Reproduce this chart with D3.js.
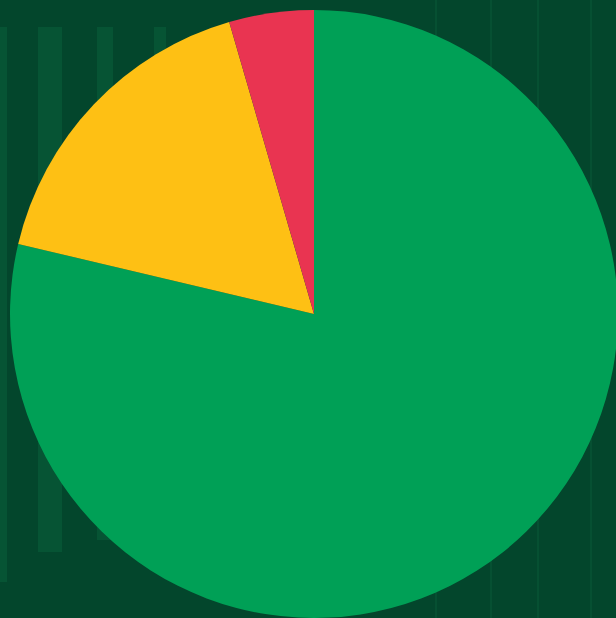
<!DOCTYPE html>
<html>
<head>
<meta charset="utf-8">
<script src="https://cdn.jsdelivr.net/npm/d3@7"></script>
<style>
html,body{margin:0;padding:0;background:#03462c;overflow:hidden;}
svg{display:block;}
</style>
</head>
<body>
<svg id="chart" width="616" height="618"></svg>
<script>
const categories = ["Green", "Yellow", "Red"];
const values = [78.7, 16.8, 4.5];
const colors = ["#00a056", "#fec014", "#e93451"];

const W = 616, H = 618;
const svg = d3.select("#chart");

// background
svg.append("rect").attr("width", W).attr("height", H).attr("fill", "#03462c");
// decorative stripes (background texture)
const stripes = [[0, 7, 27, 582], [38, 62, 27, 552], [97, 113, 27, 540], [154, 166, 27, 520]];
svg.append("g").selectAll("rect").data(stripes).join("rect")
  .attr("x", d => d[0]).attr("y", d => d[2])
  .attr("width", d => d[1] - d[0]).attr("height", d => d[3] - d[2])
  .attr("fill", "#065434");
const thin = [435, 490, 537, 590];
svg.append("g").selectAll("rect").data(thin).join("rect")
  .attr("x", d => d).attr("y", 0).attr("width", 2).attr("height", H)
  .attr("fill", "#0a5a37").attr("opacity", 0.5);

const cx = 314, cy = 314, r = 304;
const pie = d3.pie().sort(null).value(d => d.v);
const arc = d3.arc().innerRadius(0).outerRadius(r);
const data = categories.map((c, i) => ({c, v: values[i], col: colors[i]}));

svg.append("g").attr("transform", `translate(${cx},${cy})`)
  .selectAll("path").data(pie(data)).join("path")
  .attr("d", arc)
  .attr("fill", d => d.data.col);
</script>
</body>
</html>
